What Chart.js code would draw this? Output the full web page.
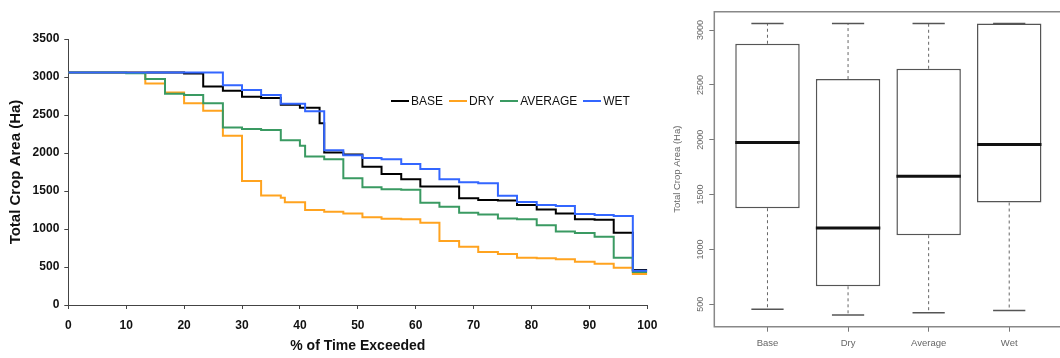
<!DOCTYPE html>
<html><head><meta charset="utf-8">
<script src="https://cdn.jsdelivr.net/npm/chart.js@4.4.1/dist/chart.umd.min.js"></script>
<style>
html,body{margin:0;padding:0;background:#fff;overflow:hidden;width:1060px;height:358px;}
#wl{position:absolute;left:0;top:0;width:660px;height:358px;}
#wr{position:absolute;left:660px;top:0;width:420px;height:358px;}
#legend{position:absolute;left:391px;top:93px;height:16px;display:flex;align-items:center;font:12px "Liberation Sans",Arial,sans-serif;color:#111;white-space:nowrap;}
#legend .it{display:flex;align-items:center;margin-right:6px;}
#legend .ln{display:inline-block;width:18px;height:2px;margin-right:2px;}
</style></head>
<body>
<div id="wl"><canvas id="cl"></canvas></div>
<div id="wr"><canvas id="cr"></canvas></div>
<div id="legend"></div>
<script>
// ---- Left panel: exceedance curves ----
const exceedPct = [0, 10, 13.3, 16.7, 20, 23.3, 26.7, 30, 33.3, 36.7, 37.4, 40, 40.9, 43.4, 44.2, 47.5, 50.8, 54.1, 57.5, 60.8, 64.1, 67.5, 70.8, 74.2, 77.5, 80.9, 84.2, 87.5, 90.9, 94.2, 97.5, 100];
const baseArea = [3060,3060,3060,3060,3045,2875,2818,2741,2724,2635,2635,2597,2597,2391,2008,1980,1820,1724,1656,1560,1560,1404,1382,1375,1316,1255,1204,1127,1122,950,460,460];
const dryArea = [3060,3060,2913,2795,2654,2557,2228,1630,1440,1412,1351,1351,1250,1250,1226,1204,1156,1136,1127,1083,842,767,697,671,623,614,601,570,544,491,408,408];
const averageArea = [3060,3048,2974,2780,2763,2654,2334,2316,2303,2168,2168,2096,1955,1955,1917,1667,1548,1524,1515,1347,1294,1215,1192,1138,1127,1050,968,946,897,623,434,434];
const wetArea = [3060,3060,3060,3060,3060,3060,2890,2829,2763,2648,2648,2648,2550,2550,2035,1970,1935,1917,1855,1790,1656,1615,1601,1436,1356,1316,1303,1198,1184,1171,451,451];
const seriesNames = ['BASE','DRY','AVERAGE','WET'];
const seriesColors = ['#000000','#FFA31F','#3A9A62','#3366FF'];
const seriesValues = [baseArea, dryArea, averageArea, wetArea];

// ---- Right panel: box plot ----
const boxCats = ['Base','Dry','Average','Wet'];
const boxMin = [455, 402, 424, 443];
const boxQ1 = [1376, 664, 1130, 1428];
const boxMed = [1975, 1196, 1668, 1957];
const boxQ3 = [2875, 2553, 2647, 3060];
const boxMax = [3060, 3060, 3060, 3060];
const boxTicks = [500, 1000, 1500, 2000, 2500, 3000];

const FF = '"Liberation Sans", Arial, sans-serif';

// legend
const lg = document.getElementById('legend');
seriesNames.forEach((n,i)=>{
  const it = document.createElement('span'); it.className='it';
  const ln = document.createElement('span'); ln.className='ln'; ln.style.background=seriesColors[i];
  const tx = document.createElement('span'); tx.textContent=n;
  it.appendChild(ln); it.appendChild(tx); lg.appendChild(it);
});

new Chart(document.getElementById('cl'), {
  type: 'line',
  data: {
    datasets: seriesNames.map((n,i)=>({
      label: n,
      data: exceedPct.map((x,j)=>({x:x, y:seriesValues[i][j]})),
      borderColor: seriesColors[i], backgroundColor: seriesColors[i],
      borderWidth: 2, pointRadius: 0, stepped: 'before', fill: false,
      order: 3 - i
    }))
  },
  options: {
    responsive: true, maintainAspectRatio: false, animation: false,
    layout: { autoPadding: false, padding: { top: 39, right: 12.7, left: 0, bottom: 0 } },
    plugins: { legend: { display: false }, tooltip: { enabled: false } },
    scales: {
      x: {
        type: 'linear', min: 0, max: 100,
        ticks: { stepSize: 10, color: '#111', font: { family: FF, size: 12, weight: 'bold' }, padding: 9, maxRotation: 0, callback: v => String(v) },
        grid: { drawOnChartArea: false, drawTicks: true, tickLength: 4, color: '#444' },
        border: { color: '#444', width: 1 },
        title: { display: true, text: '% of Time Exceeded', color: '#111', font: { family: FF, size: 14, weight: 'bold' }, padding: { top: 0, bottom: 3 } },
        afterFit: s => { s.height = 53; s.paddingLeft = 0; s.paddingRight = 0; }
      },
      y: {
        min: 0, max: 3500,
        ticks: { stepSize: 500, color: '#111', font: { family: FF, size: 12, weight: 'bold' }, padding: 5, callback: v => String(v) },
        grid: { drawOnChartArea: false, drawTicks: true, tickLength: 4, color: '#444' },
        border: { color: '#444', width: 1 },
        title: { display: true, text: 'Total Crop Area (Ha)', color: '#111', font: { family: FF, size: 15, weight: 'bold' }, padding: { top: 7 } },
        afterFit: s => { s.width = 68.3; s.paddingTop = 0; s.paddingBottom = 0; }
      }
    }
  }
});

const boxPlugin = {
  id: 'boxExtras',
  afterDatasetsDraw(chart) {
    const ctx = chart.ctx, xs = chart.scales.x, ys = chart.scales.y;
    const meta = chart.getDatasetMeta(0);
    ctx.save();
    boxCats.forEach((c,i)=>{
      const cx = xs.getPixelForValue(i+1);
      const w = meta.data[i].width;
      ctx.strokeStyle = '#666'; ctx.lineWidth = 1; ctx.setLineDash([3,3]);
      ctx.beginPath();
      ctx.moveTo(cx, ys.getPixelForValue(boxQ3[i])); ctx.lineTo(cx, ys.getPixelForValue(boxMax[i]));
      ctx.moveTo(cx, ys.getPixelForValue(boxQ1[i])); ctx.lineTo(cx, ys.getPixelForValue(boxMin[i]));
      ctx.stroke();
      ctx.setLineDash([]);
      ctx.strokeStyle = '#555'; ctx.lineWidth = 1.5;
      ctx.beginPath();
      ctx.moveTo(cx - w/4, ys.getPixelForValue(boxMax[i])); ctx.lineTo(cx + w/4, ys.getPixelForValue(boxMax[i]));
      ctx.moveTo(cx - w/4, ys.getPixelForValue(boxMin[i])); ctx.lineTo(cx + w/4, ys.getPixelForValue(boxMin[i]));
      ctx.stroke();
      ctx.strokeStyle = '#111'; ctx.lineWidth = 3;
      ctx.beginPath();
      ctx.moveTo(cx - w/2, ys.getPixelForValue(boxMed[i])); ctx.lineTo(cx + w/2, ys.getPixelForValue(boxMed[i]));
      ctx.stroke();
    });
    ctx.restore();
  },
  afterDraw(chart) {
    const ctx = chart.ctx, a = chart.chartArea, ys = chart.scales.y;
    ctx.save();
    ctx.strokeStyle = '#888'; ctx.lineWidth = 1.5;
    ctx.beginPath();
    ctx.moveTo(a.right, a.top); ctx.lineTo(a.left, a.top); ctx.lineTo(a.left, a.bottom); ctx.lineTo(a.right, a.bottom);
    ctx.stroke();
    ctx.fillStyle = '#666'; ctx.font = '9px ' + FF; ctx.textAlign = 'center'; ctx.textBaseline = 'middle';
    boxTicks.forEach(v=>{
      const y = ys.getPixelForValue(v);
      ctx.save(); ctx.translate(a.left - 14, y); ctx.rotate(-Math.PI/2);
      ctx.fillText(String(v), 0, 0); ctx.restore();
    });
    ctx.restore();
  }
};

new Chart(document.getElementById('cr'), {
  type: 'bar',
  data: {
    datasets: [{
      data: boxCats.map((c,i)=>({x:i+1, y:[boxQ1[i], boxQ3[i]]})),
      backgroundColor: '#fff', borderColor: '#555', borderWidth: 1.5, borderSkipped: false,
      barPercentage: 0.8, categoryPercentage: 1
    }]
  },
  options: {
    responsive: true, maintainAspectRatio: false, animation: false,
    layout: { autoPadding: false, padding: { top: 11.7, right: 17.6, left: 0, bottom: 0 } },
    plugins: { legend: { display: false }, tooltip: { enabled: false } },
    scales: {
      x: {
        type: 'linear', min: 0.34, max: 4.66, offset: false,
        afterBuildTicks: s => { s.ticks = boxCats.map((c,i)=>({value:i+1})); },
        ticks: { callback: v => boxCats[v-1], color: '#666', font: { family: FF, size: 9.5 }, padding: 6, maxRotation: 0, autoSkip: false },
        grid: { drawOnChartArea: false, drawTicks: true, tickLength: 5, color: '#777', offset: false },
        border: { display: false },
        afterFit: s => { s.height = 31.3; s.paddingLeft = 0; s.paddingRight = 0; }
      },
      y: {
        min: 296, max: 3167,
        afterBuildTicks: s => { s.ticks = boxTicks.map(v=>({value:v})); },
        ticks: { display: false },
        grid: { drawOnChartArea: false, drawTicks: true, tickLength: 5, color: '#777' },
        border: { display: false },
        title: { display: true, text: 'Total Crop Area (Ha)', color: '#666', font: { family: FF, size: 9.5 }, padding: { top: 12 } },
        afterFit: s => { s.width = 54.3; s.paddingTop = 0; s.paddingBottom = 0; }
      }
    }
  },
  plugins: [boxPlugin]
});
</script>
</body></html>
